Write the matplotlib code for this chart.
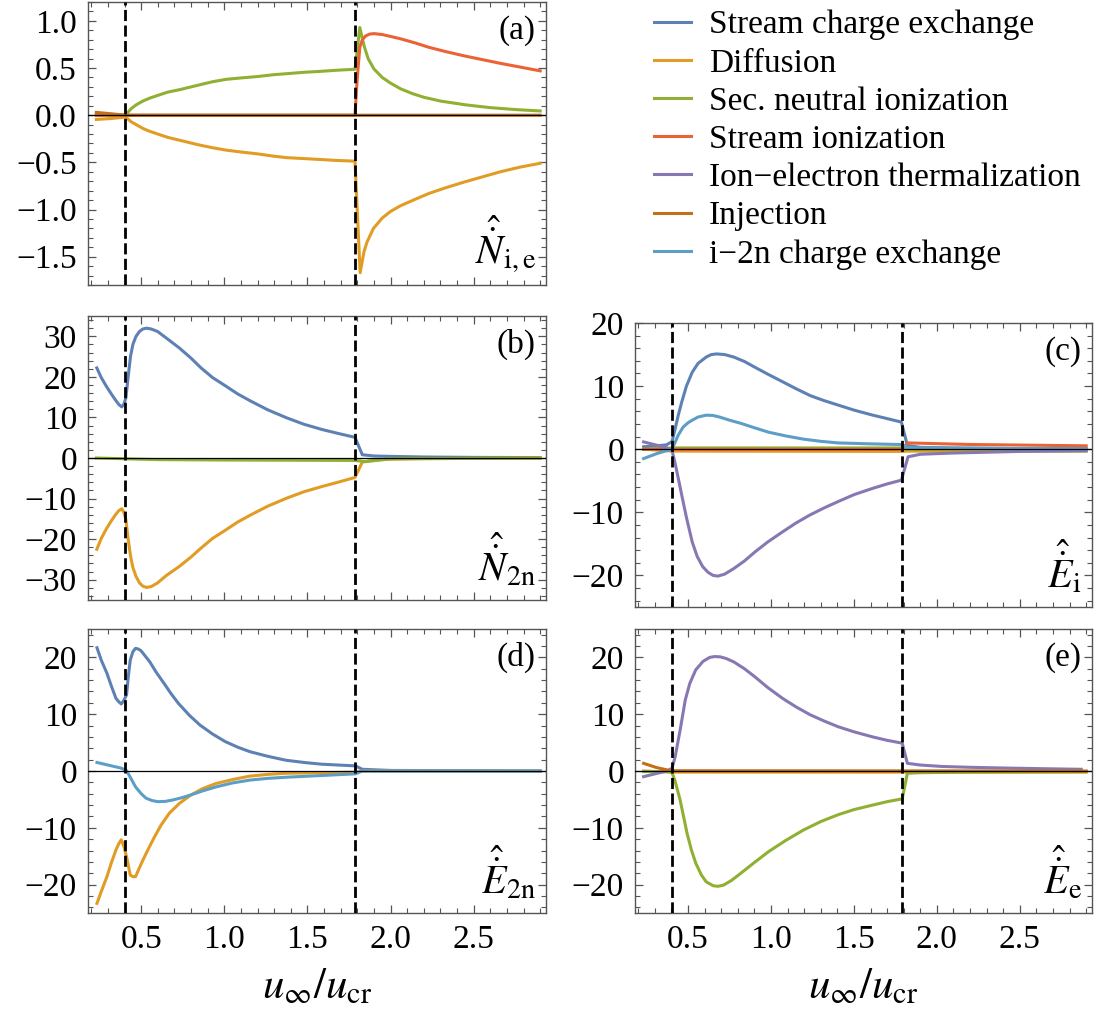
import matplotlib
matplotlib.use("Agg")
import matplotlib.pyplot as plt
from matplotlib.ticker import MultipleLocator

plt.rcParams['font.family'] = ['Liberation Serif', 'DejaVu Serif']
plt.rcParams['mathtext.fontset'] = 'stix'

# legend names and Mathematica default colours
names = ["Stream charge exchange", "Diffusion", "Sec. neutral ionization",
         "Stream ionization", "Ion\u2212electron thermalization", "Injection",
         "i\u22122n charge exchange"]
colors = ["#5E81B5", "#E19C24", "#8FB032", "#EB6235", "#8778B3", "#C56E1A", "#5D9EC7"]

# transition positions (dashed lines)
x_trans = [0.405, 1.787]

# ---- panel (a): N_i,e ----
a_diff_x = [0.23, 0.32, 0.405, 0.42, 0.44, 0.47, 0.51, 0.55, 0.6, 0.66, 0.73, 0.8, 0.86, 0.93,
            1.01, 1.1, 1.2, 1.3, 1.375, 1.48, 1.58, 1.68, 1.786,
            1.817, 1.84, 1.857, 1.897, 1.95, 2.0, 2.06, 2.15, 2.23, 2.33, 2.44, 2.55, 2.66, 2.78, 2.9]
a_diff_y = [-0.045, -0.035, -0.02, -0.04, -0.07, -0.10, -0.14, -0.17, -0.2, -0.235, -0.265, -0.295,
            -0.32, -0.345, -0.37, -0.39, -0.41, -0.435, -0.45, -0.46, -0.47, -0.48, -0.487,
            -1.67, -1.45, -1.35, -1.2, -1.09, -1.02, -0.96, -0.89, -0.83, -0.77, -0.71, -0.655,
            -0.60, -0.55, -0.51]
a_sec_x = [0.23, 0.405, 0.42, 0.44, 0.47, 0.51, 0.55, 0.6, 0.66, 0.73, 0.8, 0.87, 0.93, 1.01,
           1.1, 1.2, 1.3, 1.375, 1.48, 1.58, 1.68, 1.786,
           1.815, 1.84, 1.865, 1.9, 1.95, 2.0, 2.06, 2.13, 2.2, 2.3, 2.45, 2.6, 2.75, 2.9]
a_sec_y = [0.0, 0.0, 0.03, 0.07, 0.11, 0.15, 0.18, 0.21, 0.245, 0.27, 0.30, 0.33, 0.355, 0.38,
           0.395, 0.41, 0.43, 0.44, 0.455, 0.465, 0.477, 0.487,
           0.93, 0.74, 0.60, 0.49, 0.40, 0.34, 0.28, 0.23, 0.19, 0.15, 0.11, 0.08, 0.06, 0.045]
a_sion_x = [0.23, 1.786, 1.80, 1.815, 1.83, 1.85, 1.875, 1.9, 1.95, 2.0, 2.06, 2.15, 2.23, 2.33,
            2.44, 2.55, 2.66, 2.78, 2.9]
a_sion_y = [0.0, 0.0, 0.4, 0.72, 0.80, 0.84, 0.86, 0.865, 0.855, 0.835, 0.81, 0.765, 0.72, 0.675,
            0.63, 0.59, 0.55, 0.51, 0.47]
a_inj_x = [0.23, 0.32, 0.405, 2.9]
a_inj_y = [0.03, 0.015, 0.0, 0.0]

# ---- panel (b): N_2n ----
b_scx_x = [0.233, 0.26, 0.29, 0.32, 0.345, 0.365, 0.383, 0.395, 0.408, 0.42, 0.436, 0.45, 0.469,
           0.49, 0.51, 0.533, 0.56, 0.598, 0.65, 0.73, 0.8, 0.86, 0.93, 1.01, 1.08, 1.16, 1.26,
           1.375, 1.48, 1.59, 1.69, 1.786, 1.83, 1.9, 2.0, 2.2, 2.5, 2.9]
b_scx_y = [22.2, 19.8, 17.7, 15.8, 14.3, 13.2, 12.6, 13.2, 14.8, 19.5, 25.1, 28.0, 30.0,
           31.2, 31.8, 32.0, 31.8, 31.2, 29.6, 27.1, 24.6, 22.2, 19.8, 17.7, 15.8, 14.0, 11.9,
           9.9, 8.3, 7.0, 6.0, 5.1, 0.8, 0.5, 0.4, 0.25, 0.15, 0.1]
b_diff_x = [0.233, 0.26, 0.29, 0.32, 0.345, 0.365, 0.383, 0.395, 0.408, 0.42, 0.436, 0.45, 0.469,
            0.49, 0.51, 0.533, 0.56, 0.598, 0.65, 0.73, 0.8, 0.86, 0.93, 1.01, 1.08, 1.16, 1.26,
            1.375, 1.48, 1.59, 1.69, 1.786, 1.83, 1.9, 2.0, 2.2, 2.9]
b_diff_y = [-22.5, -19.8, -17.5, -15.5, -14.0, -13.0, -12.5, -13.3, -15.2, -19.5, -24.2, -27.0, -29.2,
            -30.8, -31.6, -31.9, -31.7, -30.8, -29.0, -26.7, -24.4, -22.2, -19.8, -17.7, -15.8,
            -14.0, -11.9, -9.9, -8.3, -7.0, -5.9, -4.8, -1.0, -0.5, -0.3, -0.15, -0.05]
b_sec_x = [0.23, 0.405, 0.6, 1.0, 1.786, 1.85, 2.0, 2.9]
b_sec_y = [0.0, -0.2, -0.4, -0.5, -0.6, -0.9, -0.2, 0.0]

# ---- panel (c): E_i ----
c_scx_x = [0.232, 0.3, 0.37, 0.403, 0.42, 0.44, 0.462, 0.49, 0.525, 0.56, 0.609, 0.64, 0.672,
           0.72, 0.776, 0.84, 0.902, 0.98, 1.069, 1.15, 1.236, 1.32, 1.404, 1.5, 1.613, 1.7,
           1.786, 1.822, 1.9, 2.1, 2.5, 2.9]
c_scx_y = [0.4, 0.5, 0.7, 1.2, 3.0, 5.3, 7.5, 10.0, 12.2, 13.6, 14.6, 15.0, 15.1,
           15.0, 14.6, 13.9, 13.0, 11.9, 10.7, 9.6, 8.5, 7.7, 7.0, 6.2, 5.4, 4.85,
           4.3, 0.6, 0.3, 0.2, 0.1, 0.1]
c_diff_x = [0.232, 0.403, 1.786, 1.826, 2.9]
c_diff_y = [0.0, -0.3, -0.35, -0.3, -0.3]
c_sec_x = [0.232, 0.403, 1.786, 1.826, 2.9]
c_sec_y = [0.0, 0.2, 0.2, 0.05, 0.0]
c_sion_x = [0.232, 1.786, 1.826, 2.2, 2.9]
c_sion_y = [0.0, 0.0, 1.0, 0.75, 0.54]
c_therm_x = [0.232, 0.312, 0.373, 0.403, 0.42, 0.44, 0.462, 0.49, 0.525, 0.555, 0.588, 0.62,
             0.651, 0.68, 0.72, 0.776, 0.84, 0.902, 0.98, 1.069, 1.15, 1.236, 1.32, 1.404, 1.5,
             1.613, 1.7, 1.786, 1.826, 1.9, 2.1, 2.5, 2.9]
c_therm_y = [1.16, 0.63, 0.2, -0.16, -2.0, -4.5, -7.3, -10.8, -14.7, -17.0, -18.6, -19.5,
             -20.0, -20.1, -19.8, -18.9, -17.7, -16.3, -14.7, -13.1, -11.7, -10.4, -9.3, -8.3, -7.2,
             -6.2, -5.5, -4.9, -1.2, -0.8, -0.6, -0.35, -0.26]
c_icx_x = [0.232, 0.312, 0.373, 0.403, 0.42, 0.44, 0.47, 0.5, 0.525, 0.56, 0.609, 0.65, 0.69,
           0.75, 0.818, 0.9, 0.985, 1.09, 1.195, 1.3, 1.404, 1.6, 1.786, 1.826, 2.0, 2.5, 2.9]
c_icx_y = [-1.48, -0.69, -0.21, 0.0, 1.0, 2.2, 3.5, 4.2, 4.6, 5.1, 5.4, 5.35, 5.1,
           4.6, 4.1, 3.4, 2.7, 2.1, 1.6, 1.25, 1.0, 0.85, 0.74, 0.25, 0.2, 0.1, 0.05]

# ---- panel (d): E_2n ----
d_scx_x = [0.234, 0.26, 0.294, 0.32, 0.348, 0.365, 0.38, 0.395, 0.412, 0.422, 0.434, 0.45, 0.466,
           0.48, 0.498, 0.52, 0.552, 0.59, 0.638, 0.68, 0.724, 0.79, 0.853, 0.93, 1.004, 1.08,
           1.154, 1.26, 1.369, 1.48, 1.584, 1.789, 1.83, 2.0, 2.5, 2.9]
d_scx_y = [21.7, 19.5, 17.2, 15.0, 12.8, 12.2, 11.8, 12.4, 13.4, 16.5, 19.5, 21.0, 21.6,
           21.5, 21.2, 20.4, 19.2, 17.4, 15.4, 13.6, 11.9, 9.8, 8.1, 6.5, 5.2, 4.2,
           3.4, 2.6, 1.9, 1.5, 1.2, 0.9, 0.3, 0.1, 0.05, 0.0]
d_diff_x = [0.234, 0.26, 0.294, 0.32, 0.348, 0.365, 0.38, 0.395, 0.412, 0.434, 0.45, 0.466, 0.49,
            0.51, 0.545, 0.58, 0.62, 0.67, 0.73, 0.80, 0.87, 0.95, 1.05, 1.154, 1.26, 1.369,
            1.789, 1.83, 2.9]
d_diff_y = [-23.3, -21.2, -18.6, -16.2, -13.9, -12.8, -12.1, -13.2, -15.1, -18.3, -18.6, -18.6, -17.0,
            -15.7, -13.6, -11.6, -9.5, -7.4, -5.7, -4.2, -3.1, -2.2, -1.5, -0.9, -0.6, -0.4,
            -0.2, 0.0, 0.0]
d_icx_x = [0.234, 0.3, 0.38, 0.412, 0.44, 0.466, 0.5, 0.53, 0.565, 0.60, 0.645, 0.69, 0.745, 0.80,
           0.87, 0.95, 1.05, 1.154, 1.26, 1.369, 1.58, 1.789, 1.83, 2.9]
d_icx_y = [1.5, 1.05, 0.5, 0.06, -1.4, -2.8, -4.0, -4.8, -5.2, -5.4, -5.35, -5.1, -4.7, -4.2,
           -3.5, -2.8, -2.1, -1.6, -1.3, -1.1, -0.8, -0.5, 0.0, 0.0]

# ---- panel (e): E_e ----
e_diff_x = [0.232, 0.403, 2.9]
e_diff_y = [0.0, -0.2, -0.2]
e_sec_x = [0.232, 0.38, 0.403, 0.42, 0.452, 0.494, 0.52, 0.546, 0.58, 0.609, 0.651, 0.68, 0.713,
           0.76, 0.818, 0.9, 0.985, 1.09, 1.195, 1.3, 1.404, 1.5, 1.613, 1.7, 1.791,
           1.822, 1.9, 2.2, 2.9]
e_sec_y = [-0.1, -0.1, -0.3, -1.6, -5.1, -11.0, -13.9, -16.2, -18.3, -19.5, -20.2, -20.3, -20.1,
           -19.3, -18.0, -16.1, -14.2, -12.2, -10.4, -8.9, -7.7, -6.8, -6.0, -5.4, -4.9,
           -0.4, -0.3, -0.2, -0.1]
e_therm_x = [0.232, 0.3, 0.373, 0.403, 0.422, 0.452, 0.483, 0.51, 0.546, 0.59, 0.63, 0.66, 0.693,
             0.73, 0.776, 0.84, 0.902, 0.98, 1.069, 1.15, 1.236, 1.32, 1.404, 1.5, 1.613, 1.7,
             1.791, 1.822, 1.9, 2.03, 2.2, 2.45, 2.65, 2.87]
e_therm_y = [-1.0, -0.5, 0.0, 0.47, 2.5, 7.2, 12.5, 15.4, 17.8, 19.3, 20.0, 20.15, 20.1,
             19.8, 19.2, 18.0, 16.6, 14.7, 12.8, 11.3, 9.9, 8.8, 7.8, 6.9, 6.0, 5.4,
             4.9, 1.35, 1.05, 0.8, 0.65, 0.5, 0.4, 0.3]
e_inj_x = [0.232, 0.31, 0.38, 0.403, 2.9]
e_inj_y = [1.35, 0.6, 0.15, 0.05, 0.0]

W, H = 1105, 1015
fig = plt.figure(figsize=(W / 100, H / 100), dpi=100)


def box(l, t, r, b):
    return [l / W, 1 - b / H, (r - l) / W, (b - t) / H]


ax_a = fig.add_axes(box(88, 2, 546, 285))
ax_b = fig.add_axes(box(88, 316, 546, 600))
ax_c = fig.add_axes(box(635, 323, 1092, 607))
ax_d = fig.add_axes(box(88, 629, 546, 913))
ax_e = fig.add_axes(box(635, 629, 1092, 913))

panels = [
    (ax_a, [(1, a_diff_x, a_diff_y), (2, a_sec_x, a_sec_y), (3, a_sion_x, a_sion_y),
            (5, a_inj_x, a_inj_y)],
     (-1.8, 1.2), 0.5, 0.1, "(a)", r"$\hat{\dot{N}}_{\mathrm{i,e}}$"),
    (ax_b, [(0, b_scx_x, b_scx_y), (1, b_diff_x, b_diff_y), (2, b_sec_x, b_sec_y)],
     (-35, 35), 10, 2, "(b)", r"$\hat{\dot{N}}_{\mathrm{2n}}$"),
    (ax_c, [(0, c_scx_x, c_scx_y), (1, c_diff_x, c_diff_y), (2, c_sec_x, c_sec_y),
            (3, c_sion_x, c_sion_y), (4, c_therm_x, c_therm_y), (6, c_icx_x, c_icx_y)],
     (-25, 20), 10, 2, "(c)", r"$\hat{\dot{E}}_{\mathrm{i}}$"),
    (ax_d, [(0, d_scx_x, d_scx_y), (1, d_diff_x, d_diff_y), (6, d_icx_x, d_icx_y)],
     (-25, 25), 10, 2, "(d)", r"$\hat{\dot{E}}_{\mathrm{2n}}$"),
    (ax_e, [(1, e_diff_x, e_diff_y), (2, e_sec_x, e_sec_y), (4, e_therm_x, e_therm_y),
            (5, e_inj_x, e_inj_y)],
     (-25, 25), 10, 2, "(e)", r"$\hat{\dot{E}}_{\mathrm{e}}$"),
]

frame_col = "#555555"
for ax, series, ylim, major, minor, tag, qty in panels:
    for idx, xs, ys in series:
        ax.plot(xs, ys, color=colors[idx], lw=2.2, zorder=2 + idx * 0.01,
                solid_joinstyle="round")
    ax.axhline(0, color="black", lw=0.9, zorder=3)
    for xt in x_trans:
        ax.axvline(xt, color="black", lw=2.0, dashes=(4, 1.6), zorder=4)
    ax.set_xlim(0.18, 2.935)
    ax.set_ylim(*ylim)
    ax.xaxis.set_major_locator(MultipleLocator(0.5))
    ax.xaxis.set_minor_locator(MultipleLocator(0.1))
    ax.yaxis.set_major_locator(MultipleLocator(major))
    ax.yaxis.set_minor_locator(MultipleLocator(minor))
    ax.tick_params(which="both", direction="in", top=True, right=True,
                   color=frame_col, labelsize=24, pad=8)
    ax.tick_params(which="major", length=6, width=0.9)
    ax.tick_params(which="minor", length=3.5, width=0.8)
    for sp in ax.spines.values():
        sp.set_color(frame_col)
        sp.set_linewidth(1.0)
    if ax not in (ax_d, ax_e):
        ax.tick_params(labelbottom=False)
    ax.text(0.978, 0.955, tag, transform=ax.transAxes, ha="right", va="top", fontsize=24)
    ax.text(0.978, 0.035, qty, transform=ax.transAxes, ha="right", va="bottom", fontsize=29)

for ax in (ax_d, ax_e):
    pos = ax.get_position()
    fig.text(pos.x0 + pos.width / 2, 1 - 998 / H, r"$u_{\infty}/u_{\mathrm{cr}}$",
             ha="center", va="baseline", fontsize=31)

handles = [plt.Line2D([], [], color=c, lw=2.2) for c in colors]
fig.legend(handles, names, loc="upper left", bbox_to_anchor=(654 / W, 1 - 10 / H),
           frameon=False, fontsize=24, handlelength=1.1, handletextpad=0.55,
           labelspacing=0.23, borderpad=0, borderaxespad=0)

fig.savefig("out.png", dpi=100)
